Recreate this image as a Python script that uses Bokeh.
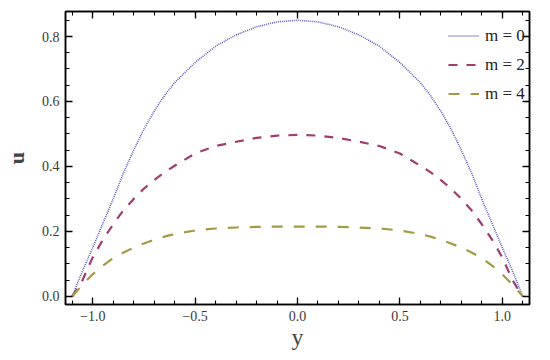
from bokeh.plotting import figure
from bokeh.models import Range1d, LinearAxis, Legend, LegendItem, FixedTicker
from bokeh.embed import file_html
from bokeh.resources import INLINE

# data
y_vals = [-1.1, -1.075, -1.05, -1.0, -0.95, -0.9, -0.85, -0.8, -0.75, -0.7, -0.65, -0.6, -0.5, -0.4, -0.3,
          -0.2, -0.1, 0.0, 0.1, 0.2, 0.3, 0.4, 0.5, 0.6, 0.65, 0.7, 0.75, 0.8, 0.85, 0.9, 0.95, 1.0,
          1.05, 1.075, 1.1]
u_m0 = [0.0, 0.04, 0.078, 0.15, 0.225, 0.30, 0.38, 0.45, 0.515, 0.57, 0.618, 0.658, 0.72, 0.77, 0.805,
        0.83, 0.845, 0.85, 0.845, 0.83, 0.805, 0.77, 0.72, 0.658, 0.618, 0.57, 0.515, 0.45, 0.38, 0.30,
        0.225, 0.15, 0.078, 0.04, 0.0]
u_m2 = [0.0, 0.024, 0.05, 0.12, 0.175, 0.222, 0.265, 0.30, 0.332, 0.358, 0.382, 0.402, 0.44, 0.463, 0.476,
        0.488, 0.495, 0.497, 0.495, 0.488, 0.476, 0.463, 0.44, 0.402, 0.382, 0.358, 0.332, 0.30, 0.265,
        0.222, 0.175, 0.12, 0.05, 0.024, 0.0]
u_m4 = [0.0, 0.018, 0.036, 0.068, 0.095, 0.118, 0.135, 0.15, 0.163, 0.174, 0.184, 0.192, 0.203, 0.209,
        0.212, 0.214, 0.215, 0.215, 0.215, 0.214, 0.212, 0.209, 0.203, 0.192, 0.184, 0.174, 0.163, 0.15,
        0.135, 0.118, 0.095, 0.068, 0.036, 0.018, 0.0]
labels = ["m = 0", "m = 2", "m = 4"]
x_ticks = [-1.0, -0.5, 0.0, 0.5, 1.0]
x_tick_labels = ["\u22121.0", "\u22120.5", "0.0", "0.5", "1.0"]
y_ticks = [0.0, 0.2, 0.4, 0.6, 0.8]
y_tick_labels = ["0.0", "0.2", "0.4", "0.6", "0.8"]

FONT = "Times New Roman"

p = figure(width=534, height=352, output_backend="svg", toolbar_location=None,
           x_range=Range1d(-1.133, 1.133), y_range=Range1d(-0.025, 0.877),
           min_border_left=53, min_border_right=5, min_border_top=11, min_border_bottom=10)
p.grid.visible = False
p.outline_line_color = "black"
p.outline_line_width = 1.5

x_minor = [round(-1.1 + 0.1 * i, 2) for i in range(23)]
y_minor = [round(0.05 * i, 2) for i in range(18)]

def style(ax, ticks, tick_labels, minors, show):
    ax.ticker = FixedTicker(ticks=ticks, minor_ticks=minors)
    ax.axis_line_color = "black"
    ax.axis_line_width = 1.5
    ax.major_tick_in = 7
    ax.major_tick_out = 0
    ax.minor_tick_in = 4
    ax.minor_tick_out = 0
    ax.major_tick_line_width = 1.3
    ax.minor_tick_line_width = 1.1
    ax.major_label_text_font = FONT
    ax.major_label_text_font_size = "14px"
    ax.major_label_text_color = "#3a3a3a"
    if show:
        ax.major_label_overrides = {t: s for t, s in zip(ticks, tick_labels)}
        ax.major_label_standoff = 6
    else:
        ax.major_label_overrides = {t: "" for t in ticks}
        ax.major_label_standoff = 0

style(p.xaxis[0], x_ticks, x_tick_labels, x_minor, True)
p.xaxis[0].major_label_standoff = 6
style(p.yaxis[0], y_ticks, y_tick_labels, y_minor, True)
p.xaxis[0].axis_label = "y"
p.xaxis[0].axis_label_text_font = FONT
p.xaxis[0].axis_label_text_font_size = "24px"
p.xaxis[0].axis_label_text_font_style = "normal"
p.xaxis[0].axis_label_standoff = 0
p.yaxis[0].axis_label = "u"
p.yaxis[0].axis_label_text_font = FONT
p.yaxis[0].axis_label_text_font_size = "22px"
p.yaxis[0].axis_label_text_font_style = "bold"
p.yaxis[0].axis_label_standoff = 10
p.yaxis[0].major_label_orientation = "horizontal"

top = LinearAxis()
style(top, x_ticks, x_tick_labels, x_minor, False)
p.add_layout(top, "above")
right = LinearAxis()
style(right, y_ticks, y_tick_labels, y_minor, False)
p.add_layout(right, "right")

r0 = p.line(y_vals, u_m0, line_color="#6060c4", line_width=1.6, line_dash="1 1")
r2 = p.line(y_vals, u_m2, line_color="#a03c6e", line_width=2.2, line_dash="9 9")
r4 = p.line(y_vals, u_m4, line_color="#a39a45", line_width=2.2, line_dash="11 11")

legend = Legend(items=[LegendItem(label=labels[0], renderers=[r0]),
                       LegendItem(label=labels[1], renderers=[r2]),
                       LegendItem(label=labels[2], renderers=[r4])],
                location=(383, 200), border_line_color=None, background_fill_alpha=0,
                label_text_font=FONT, label_text_font_size="17px", label_text_color="#222222",
                glyph_width=31, glyph_height=21, label_height=21, spacing=8,
                margin=0, padding=5, label_standoff=6)
p.add_layout(legend, "center")

open("out.html", "w").write(file_html(p, INLINE))
